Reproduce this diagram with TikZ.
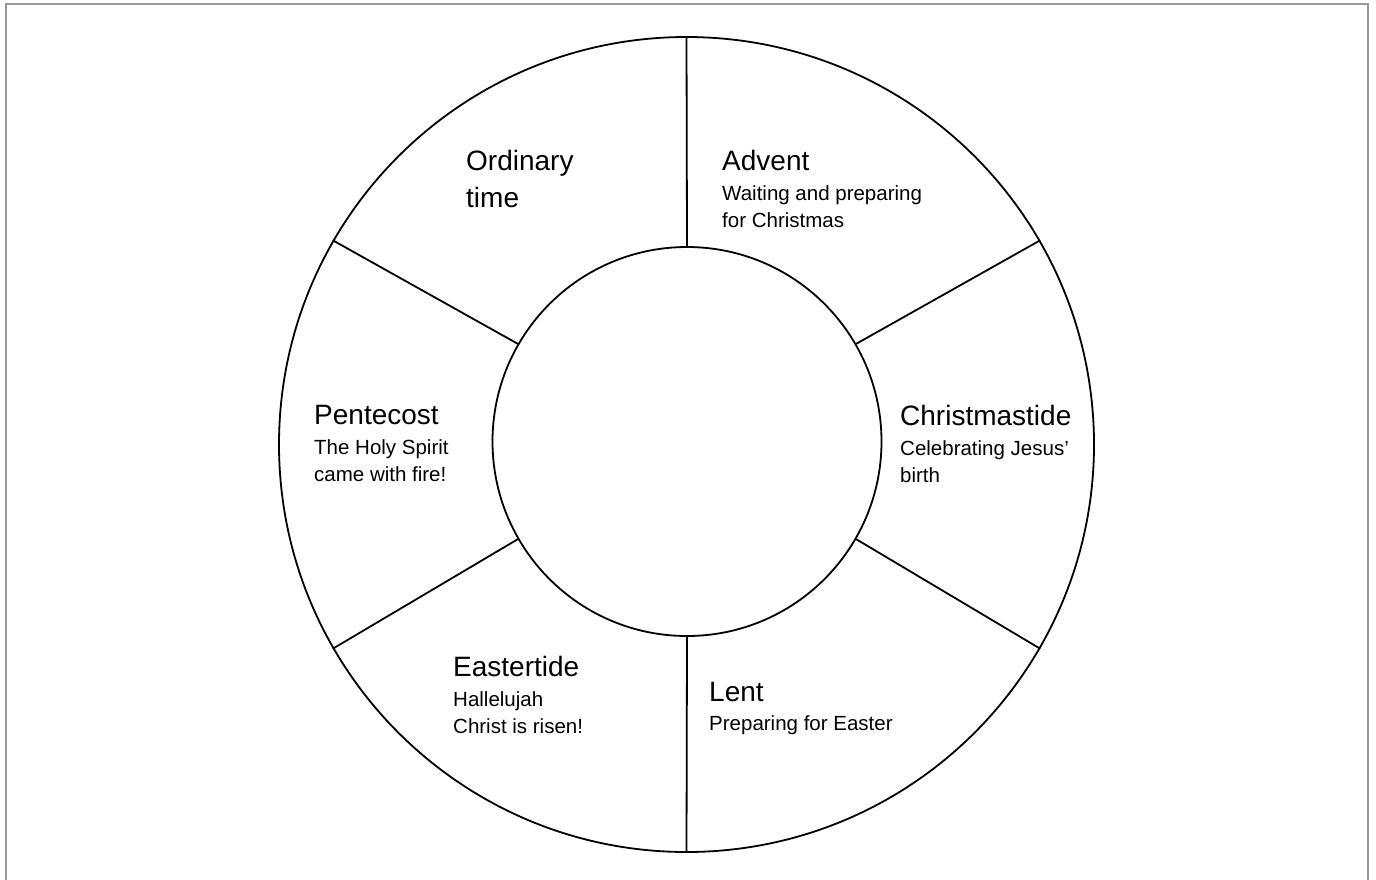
\documentclass[tikz,border=0pt]{standalone}
\usepackage{fontspec}
\setmainfont{Liberation Sans}
\begin{document}
\begin{tikzpicture}[x=1pt,y=-1pt,
  ring/.style={draw=black,line width=1.8pt},
  divider/.style={draw=black,line width=1.8pt},
  frame/.style={draw=black!40,line width=2pt},
  title/.style={anchor=base west,inner sep=0pt,font=\fontsize{28}{36.7}\selectfont,align=left},
  desc/.style={anchor=base west,inner sep=0pt,font=\fontsize{20.5}{27}\selectfont,align=left}]
\useasboundingbox (0,0) rectangle (1376,879);
\draw[frame] (6,890) -- (6,4) -- (1368,4) -- (1368,890);
\coordinate (oc) at (686.5,444.5);
\coordinate (ic) at (687,441.5);
\node[ring,circle,minimum size=815pt,inner sep=0pt] (outer) at (oc) {};
\node[ring,circle,minimum size=389pt,inner sep=0pt] (inner) at (ic) {};
\foreach \a in {90,150,210,270,330,30}{
  \draw[divider] (inner.\a) -- (outer.\a);
}
% multi-line nodes: base anchor sits on the last line's baseline
\node[title] (ord) at (466,207) {Ordinary\\time};
\node[title] (adv) at (722,170) {Advent};
\node[desc] (advd) at (722,227) {Waiting and preparing\\for Christmas};
\node[title] (chr) at (900,425) {Christmastide};
\node[desc] (chrd) at (900,482) {Celebrating Jesus’\\birth};
\node[title] (pen) at (314,424) {Pentecost};
\node[desc] (pend) at (314,481) {The Holy Spirit\\came with fire!};
\node[title] (eas) at (453,676) {Eastertide};
\node[desc] (easd) at (453,733) {Hallelujah\\Christ is risen!};
\node[title] (lent) at (709,701) {Lent};
\node[desc] (lentd) at (709,730.5) {Preparing for Easter};
\end{tikzpicture}
\end{document}
